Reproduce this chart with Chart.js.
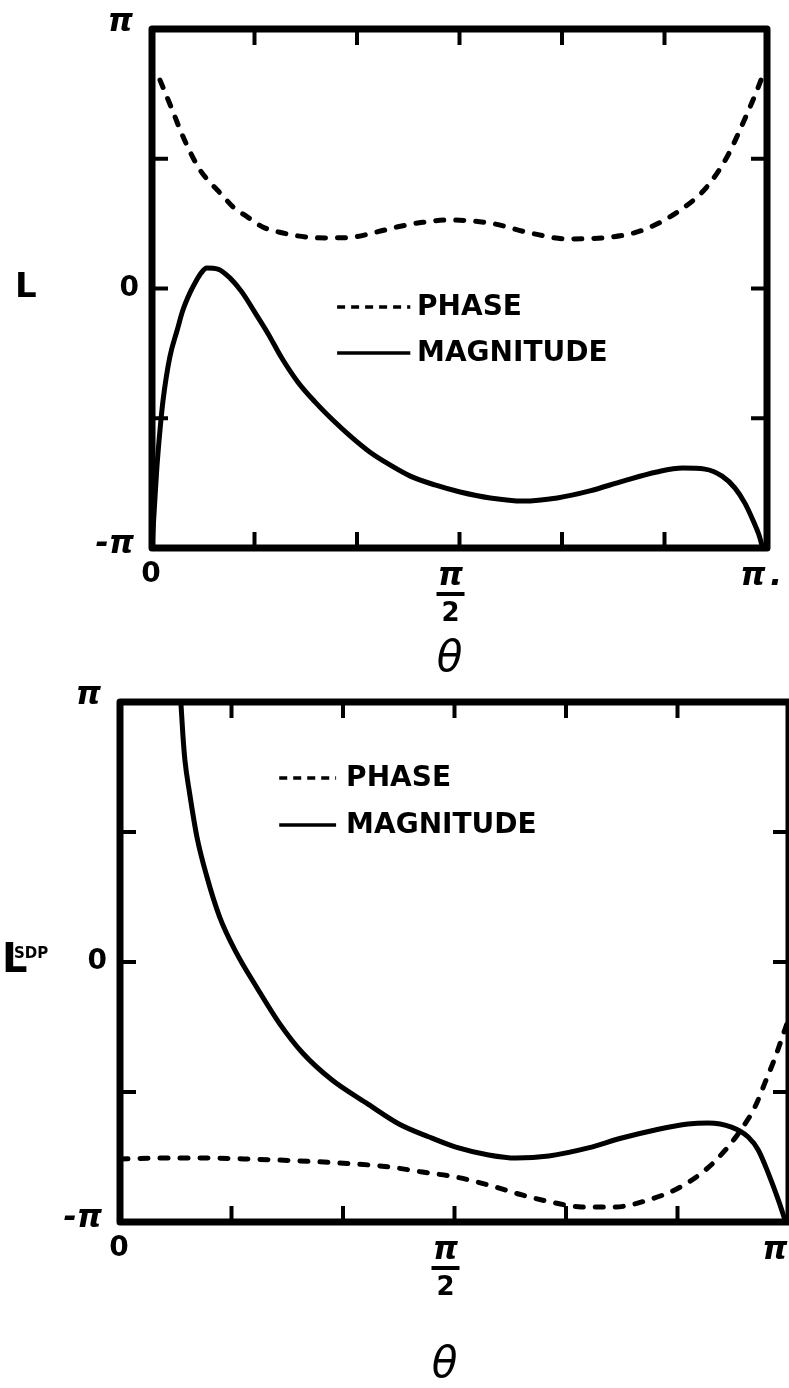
<!DOCTYPE html>
<html>
<head>
<meta charset="utf-8">
<script src="https://cdn.jsdelivr.net/npm/chart.js@4.4.0/dist/chart.umd.min.js"></script>
<style>
body{margin:0;background:#fff;width:789px;height:1388px;overflow:hidden}
canvas{position:absolute;left:0}
#c1{top:0}
#c2{top:681px}
</style>
</head>
<body>
<canvas id="c1" width="789" height="681"></canvas>
<canvas id="c2" width="789" height="707"></canvas>
<script>
// theta and L are both kept in units of pi
var thetaTicks = [1/6, 2/6, 3/6, 4/6, 5/6];
var lTicks = [-0.5, 0, 0.5];
var seriesNames = ['PHASE', 'MAGNITUDE'];

// upper panel : L
var lPhaseX = [0.013,0.033,0.046,0.062,0.078,0.094,0.114,0.132,0.155,0.180,0.213,0.252,0.289,0.327,0.366,0.398,0.440,0.480,0.550,0.615,0.675,0.733,0.798,0.859,0.902,0.935,0.961,0.984,0.992];
var lPhaseY = [0.803,0.688,0.610,0.526,0.457,0.410,0.360,0.314,0.276,0.237,0.214,0.198,0.195,0.198,0.218,0.237,0.255,0.264,0.252,0.214,0.191,0.195,0.225,0.302,0.391,0.507,0.638,0.765,0.815];
var lMagX = [0,0.005,0.008,0.013,0.018,0.029,0.041,0.050,0.062,0.072,0.080,0.089,0.107,0.127,0.146,0.167,0.189,0.211,0.237,0.265,0.294,0.322,0.354,0.387,0.420,0.460,0.501,0.550,0.603,0.659,0.712,0.766,0.821,0.863,0.899,0.927,0.948,0.964,0.977,0.987,0.993];
var lMagY = [-1.0,-0.800,-0.688,-0.545,-0.430,-0.264,-0.160,-0.085,-0.015,0.030,0.060,0.079,0.075,0.040,-0.013,-0.091,-0.175,-0.268,-0.360,-0.437,-0.507,-0.568,-0.630,-0.680,-0.723,-0.757,-0.784,-0.807,-0.819,-0.807,-0.780,-0.742,-0.707,-0.692,-0.696,-0.723,-0.769,-0.827,-0.892,-0.950,-1.0];

// lower panel : L^SDP
var sPhaseX = [0,0.060,0.119,0.194,0.268,0.328,0.402,0.452,0.502,0.551,0.601,0.651,0.690,0.741,0.790,0.835,0.875,0.905,0.928,0.949,0.964,0.979,0.991,1.0];
var sPhaseY = [-0.758,-0.754,-0.754,-0.758,-0.765,-0.773,-0.788,-0.808,-0.827,-0.858,-0.896,-0.927,-0.942,-0.942,-0.915,-0.869,-0.800,-0.723,-0.646,-0.558,-0.465,-0.369,-0.281,-0.215];
var sMagX = [0.091,0.094,0.097,0.104,0.115,0.130,0.149,0.174,0.204,0.238,0.273,0.317,0.368,0.417,0.462,0.502,0.551,0.592,0.641,0.700,0.750,0.800,0.849,0.879,0.914,0.939,0.954,0.969,0.984,0.994];
var sMagY = [1.0,0.873,0.777,0.650,0.481,0.327,0.173,0.035,-0.096,-0.235,-0.350,-0.454,-0.542,-0.623,-0.673,-0.712,-0.742,-0.754,-0.746,-0.715,-0.677,-0.646,-0.623,-0.619,-0.635,-0.673,-0.723,-0.812,-0.915,-0.992];

function pts(xs, ys) {
	return xs.map(function(x, i){ return {x: x, y: ys[i]}; });
}

function seg(c, x1, y1, x2, y2) {
	c.beginPath(); c.moveTo(x1, y1); c.lineTo(x2, y2); c.stroke();
}

// box, inward ticks, pi labels and the little key
var frame = {
	id: 'frame',
	afterDatasetsDraw: function(chart, args, o) {
		var c = chart.ctx, a = chart.chartArea;
		var xs = chart.scales.x, ys = chart.scales.y;
		c.save();
		c.strokeStyle = '#000';
		c.fillStyle = '#000';
		c.lineWidth = 7;
		c.lineJoin = 'round';
		c.strokeRect(a.left, a.top, a.right - a.left, a.bottom - a.top);

		c.lineWidth = 4;
		thetaTicks.forEach(function(v){
			var p = xs.getPixelForValue(v);
			seg(c, p, a.top, p, a.top + 16);
			seg(c, p, a.bottom, p, a.bottom - 16);
		});
		lTicks.forEach(function(v){
			var p = ys.getPixelForValue(v);
			seg(c, a.left, p, a.left + 16, p);
			seg(c, a.right, p, a.right - 16, p);
		});

		c.textBaseline = 'middle';
		// y tick labels
		c.textAlign = 'right';
		c.font = 'bold 28px "DejaVu Sans"';
		c.fillText('0', a.left - 13, ys.getPixelForValue(0));
		c.font = 'bold italic 32px "DejaVu Sans"';
		c.fillText('\u03c0', a.left - 19, ys.getPixelForValue(1) - 6);
		c.fillText('-\u03c0', a.left - 18, ys.getPixelForValue(-1) - 3);

		// x tick labels
		c.textAlign = 'center';
		c.font = 'bold 28px "DejaVu Sans"';
		c.fillText('0', xs.getPixelForValue(0) - 1, a.bottom + 27);
		var h = xs.getPixelForValue(0.5) - 9;
		c.font = 'bold italic 32px "DejaVu Sans"';
		c.fillText('\u03c0', h, a.bottom + 29);
		c.fillText('\u03c0', xs.getPixelForValue(1) - 14, a.bottom + 29);
		if (o.piDot) c.fillText('.', xs.getPixelForValue(1) + 9, a.bottom + 29);
		c.lineWidth = 4;
		seg(c, h - 14, a.bottom + 46, h + 14, a.bottom + 46);
		c.font = 'bold 26px "DejaVu Sans"';
		c.fillText('2', h, a.bottom + 66);

		// axis names
		c.font = 'italic 42px "DejaVu Sans"';
		c.fillText('\u03b8', xs.getPixelForValue(0.5) - 10, a.bottom + o.thetaDy);
		c.textAlign = 'left';
		c.font = 'bold ' + o.nameSize + 'px "DejaVu Sans"';
		c.fillText(o.yName, o.nameX, ys.getPixelForValue(0));
		if (o.ySup) {
			c.font = 'bold 15px "DejaVu Sans"';
			c.fillText(o.ySup, o.nameX + 12, ys.getPixelForValue(0) - 8);
		}

		// key
		var k = o.key;
		var k0 = xs.getPixelForValue(k.x0), k1 = xs.getPixelForValue(k.x1), kt = xs.getPixelForValue(k.xt);
		var yp = ys.getPixelForValue(k.yPhase), ym = ys.getPixelForValue(k.yMag);
		c.lineWidth = 3.5;
		c.setLineDash([8, 6]);
		seg(c, k0, yp, k1, yp);
		c.setLineDash([]);
		seg(c, k0, ym, k1, ym);
		c.font = 'bold 28px "DejaVu Sans"';
		c.fillText(seriesNames[0], kt, yp + 1);
		c.fillText(seriesNames[1], kt, ym + 1);
		c.restore();
	}
};

function makePanel(id, phase, mag, pad, o) {
	return new Chart(document.getElementById(id), {
		type: 'line',
		data: {
			datasets: [
			{
				label: seriesNames[0],
				data: phase,
				borderColor: '#000',
				borderWidth: 5,
				borderDash: [8, 12],
				borderCapStyle: 'round',
				cubicInterpolationMode: 'monotone',
				pointRadius: 0,
				fill: false
			},
			{
				label: seriesNames[1],
				data: mag,
				borderColor: '#000',
				borderWidth: 5,
				borderCapStyle: 'round',
				cubicInterpolationMode: 'monotone',
				pointRadius: 0,
				fill: false
			}
			]
		},
		options: {
			responsive: false,
			animation: false,
			devicePixelRatio: 1,
			layout: { padding: pad },
			scales: {
				x: { type: 'linear', min: 0, max: 1, display: false },
				y: { type: 'linear', min: -1, max: 1, display: false }
			},
			plugins: {
				legend: { display: false },
				tooltip: { enabled: false },
				frame: o
			}
		},
		plugins: [frame]
	});
}

makePanel('c1', pts(lPhaseX, lPhaseY), pts(lMagX, lMagY),
	{ left: 152, right: 22, top: 29, bottom: 133 },
	{ yName: 'L', ySup: '', nameX: 15, nameSize: 34, thetaDy: 112, piDot: true,
	  key: { x0: 0.301, x1: 0.420, xt: 0.431, yPhase: -0.071, yMag: -0.249 } });

makePanel('c2', pts(sPhaseX, sPhaseY), pts(sMagX, sMagY),
	{ left: 120, right: -3, top: 21, bottom: 166 },
	{ yName: 'L', ySup: 'SDP', nameX: 2, nameSize: 40, thetaDy: 144, piDot: false,
	  key: { x0: 0.238, x1: 0.323, xt: 0.338, yPhase: 0.708, yMag: 0.527 } });
</script>
</body>
</html>
